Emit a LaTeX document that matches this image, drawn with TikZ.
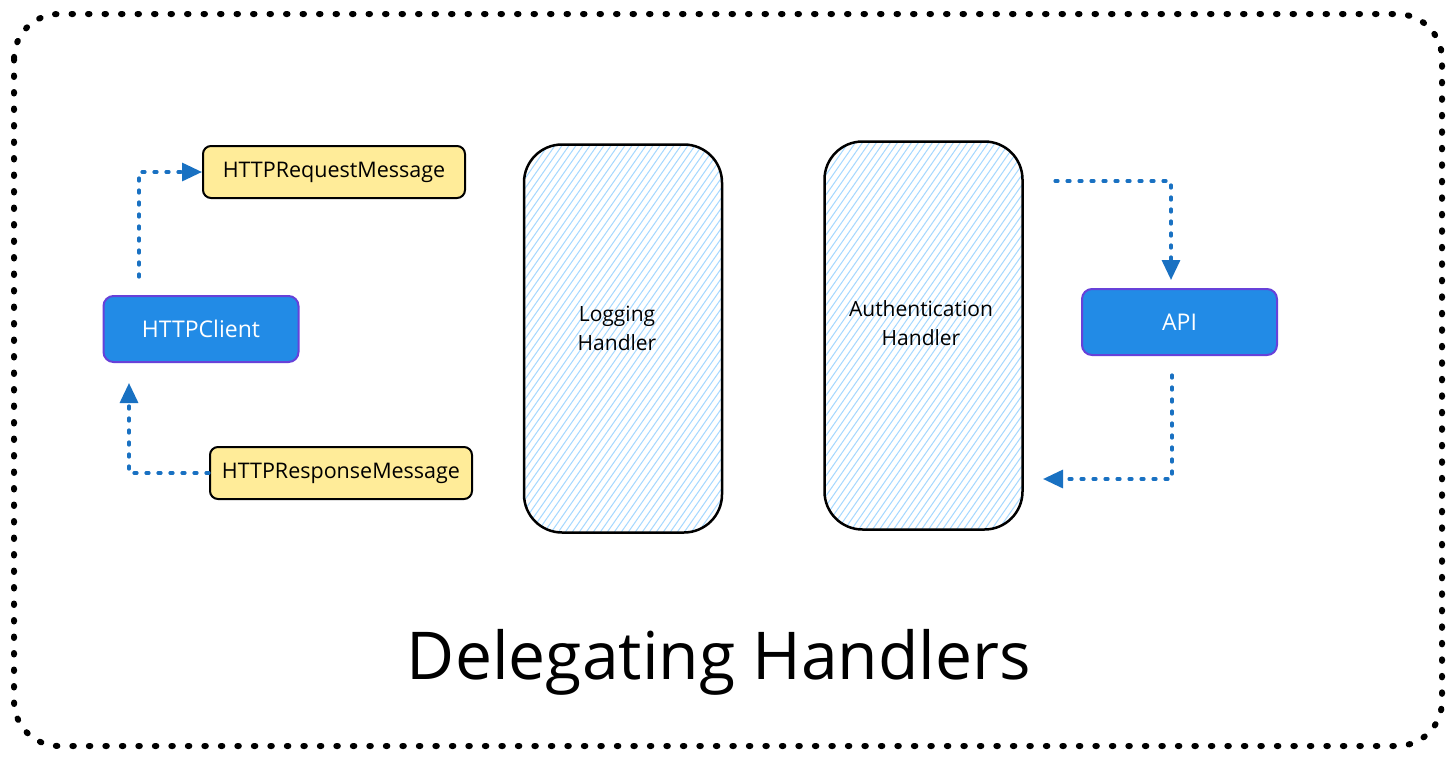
\documentclass[tikz,border=0pt]{standalone}
\usepackage{fontspec}
\setmainfont{Open Sans}
\usetikzlibrary{arrows.meta}
\definecolor{arrowblue}{HTML}{1971C2}
\definecolor{boxblue}{HTML}{228BE6}
\definecolor{boxpurple}{HTML}{6741D9}
\definecolor{msgyellow}{HTML}{FFEC99}
\definecolor{hatchblue}{HTML}{A5D8FF}
\tikzset{
  outerdots/.style={draw=black, line width=6pt, line cap=round, dash pattern=on 1.5pt off 15pt, rounded corners=45pt},
  msgbox/.style={draw=black, line width=2pt, fill=msgyellow, rounded corners=8pt, minimum width=262pt, minimum height=52pt, font=\fontsize{21.5}{24}\selectfont, inner sep=0pt},
  bluebox/.style={draw=boxpurple, line width=2pt, fill=boxblue, rounded corners=10pt, minimum width=195pt, minimum height=66pt, text=white, font=\fontsize{23}{26}\selectfont, inner sep=0pt},
  handlerbox/.style={draw=black, line width=2.5pt, rounded corners=38pt, minimum width=198pt, minimum height=388pt, inner sep=0pt,
    path picture={\foreach \i in {-330,-323,...,220} {\draw[hatchblue, line width=1pt] (path picture bounding box.south west) ++(\i pt,0) -- ++(300pt,430pt);}}},
  handlertext/.style={align=center, font=\fontsize{21}{29}\selectfont, inner sep=0pt},
  flow/.style={draw=arrowblue, line width=3.2pt, line cap=round, dash pattern=on 3pt off 9pt, -{Triangle[length=20pt,width=18pt]}},
}
\begin{document}
\begin{tikzpicture}[x=1pt,y=-1pt]
\useasboundingbox (0,0) rectangle (1456,761);
\fill[white] (0,0) rectangle (1456,761);
\draw[outerdots] (14,14) rectangle (1442,746);

\node[msgbox] (req) at (334,172) {HTTPRequestMessage};
\node[bluebox] (client) at (201,329) {HTTPClient};
\node[msgbox] (resp) at (341,473) {HTTPResponseMessage};

\node[handlerbox] (log) at (623,338.5) {};
\node[handlertext] (logtext) at (617,328) {Logging\\Handler};
\node[handlerbox] (auth) at (923.5,335.5) {};
\node[handlertext] (authtext) at (921,323) {Authentication\\Handler};

\node[bluebox] (api) at (1179.5,322) {API};

\coordinate (c1) at (139,277);
\draw[flow] (c1) |- (req.west);
\coordinate (c2) at (129,383);
\draw[flow] (resp.west) -| (c2);
\coordinate (a1) at (1055,181);
\coordinate (a2) at (1171,280);
\draw[flow] (a1) -| (a2);
\coordinate (a3) at (1172,375);
\coordinate (a4) at (1043,479);
\draw[flow] (a3) |- (a4);

\node (title) at (719,662) {\fontsize{66}{78}\selectfont Delegating Handlers};
\end{tikzpicture}
\end{document}
